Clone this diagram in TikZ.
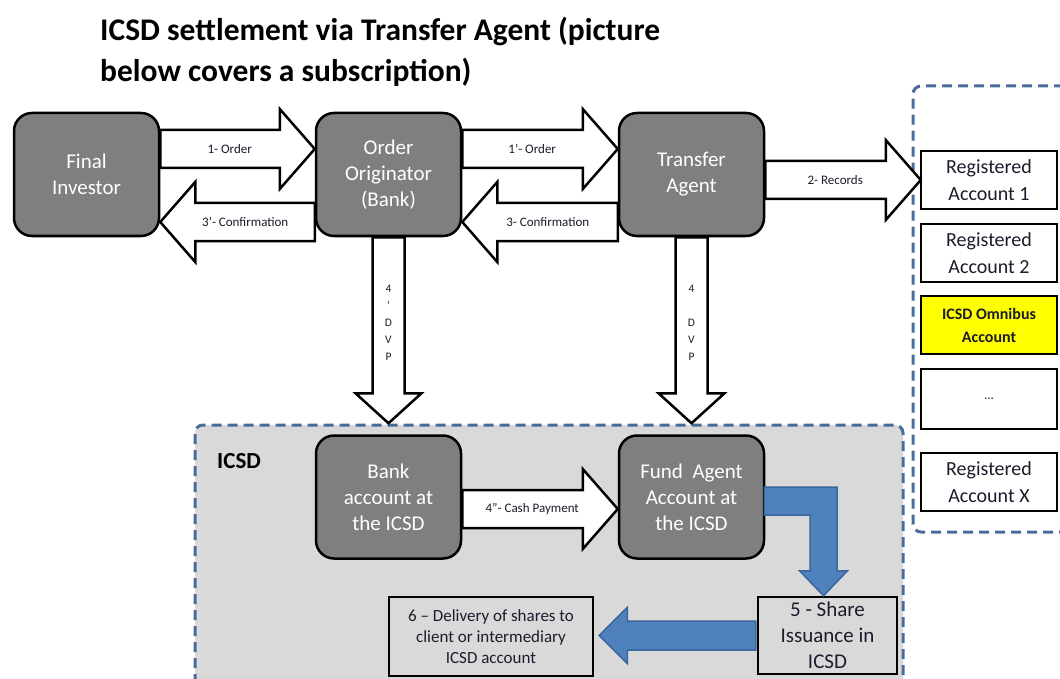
\documentclass[tikz,border=0pt]{standalone}
\usepackage{fontspec}
\setmainfont{Carlito}
\usetikzlibrary{calc}
\definecolor{boxgray}{HTML}{7F7F7F}
\definecolor{icsdgray}{HTML}{D9D9D9}
\definecolor{dashblue}{HTML}{4A6C9B}
\definecolor{arrowblue}{HTML}{4F81BD}
\definecolor{arrowblueb}{HTML}{3A679C}
\definecolor{omni}{HTML}{FFFF00}
\definecolor{txt}{HTML}{1C1C2C}

\newcommand\rblock[4]{%
  \draw[barrow] ($(#1 |- #2)+(0,-19)$) -- ($(#2)+(-35,-19)$) -- ($(#2)+(-35,-40)$) -- (#2)
    -- ($(#2)+(-35,40)$) -- ($(#2)+(-35,19)$) -- ($(#1 |- #2)+(0,19)$) -- cycle;
  \node[alabel] (#4) at ($(#1 |- #2)!0.45!(#2)$) {#3};}
\newcommand\lblock[4]{%
  \draw[barrow] ($(#1 |- #2)+(0,-19)$) -- ($(#2)+(35,-19)$) -- ($(#2)+(35,-40)$) -- (#2)
    -- ($(#2)+(35,40)$) -- ($(#2)+(35,19)$) -- ($(#1 |- #2)+(0,19)$) -- cycle;
  \node[alabel] (#4) at ($(#1 |- #2)!0.45!(#2)$) {#3};}
\newcommand\dblock[2]{%
  \draw[barrow] ($(#1 -| #2)+(-16,0)$) -- ($(#2)+(-16,-30)$) -- ($(#2)+(-33,-30)$) -- (#2)
    -- ($(#2)+(33,-30)$) -- ($(#2)+(16,-30)$) -- ($(#1 -| #2)+(16,0)$) -- cycle;}

\begin{document}
\begin{tikzpicture}[x=1pt,y=-1pt,
  gbox/.style={draw=black, line width=2.5pt, fill=boxgray, rounded corners=18pt,
    minimum width=145pt, minimum height=123pt, text=white, align=center,
    font=\fontsize{21}{26}\selectfont, inner sep=0pt},
  rbox/.style={draw=black, line width=2.5pt, fill=white, minimum width=136pt,
    minimum height=58pt, align=center, text=txt, font=\fontsize{20}{27}\selectfont, inner sep=0pt},
  sbox/.style={draw=black, line width=2.5pt, fill=icsdgray, align=center, text=txt, inner sep=0pt},
  barrow/.style={draw=black, fill=white, line width=2.5pt, line join=miter},
  blarrow/.style={draw=arrowblueb, fill=arrowblue, line width=1.5pt, line join=miter},
  alabel/.style={text=txt, font=\fontsize{13}{15}\selectfont, inner sep=0pt},
  vlabel/.style={text=txt, font=\fontsize{11.5}{17}\selectfont, align=center, inner sep=0pt},
  dashframe/.style={draw=dashblue, line width=3pt, dash pattern=on 10pt off 6pt, rounded corners=8pt},
]
\useasboundingbox (0,0) rectangle (1060,679);

% title
\node[anchor=north west, align=left, inner sep=0pt, font=\fontsize{31.5}{41}\selectfont\bfseries, text=black]
  (title) at (100,17) {ICSD settlement via Transfer Agent (picture\\below covers a subscription)};

% ICSD region
\fill[icsdgray, rounded corners=8pt] (195,700) -- (195,425) -- (903,425) -- (903,700) -- cycle;
\draw[dashframe] (195,700) -- (195,425) -- (903,425) -- (903,700);
\node[anchor=west, inner sep=0pt, font=\fontsize{23}{27}\selectfont\bfseries, text=black] (icsdlab) at (217,461) {ICSD};

% right registry frame
\draw[dashframe] (1080,86) -- (913,86) -- (913,532) -- (1080,532);

% gray boxes
\node[gbox] (fi) at (86.5,174.5) {Final\\Investor};
\node[gbox] (oo) at (388.5,174.5) {Order\\Originator\\(Bank)};
\node[gbox] (ta) at (691.5,174.5) {Transfer\\Agent};
\node[gbox] (ba) at (388.5,497) {Bank\\account at\\the ICSD};
\node[gbox] (fa) at (691.5,497) {Fund\ \ Agent\\Account at\\the ICSD};

% registered accounts
\node[rbox] (ra1) at (989,180) {Registered\\Account 1};
\node[rbox] (ra2) at (989,253) {Registered\\Account 2};
\node[rbox, fill=omni, font=\fontsize{16}{23}\selectfont\bfseries] (om) at (989,325) {ICSD Omnibus\\Account};
\node[rbox, minimum height=60pt] (rd) at (989,399) {\fontsize{13}{15}\selectfont ...};
\node[rbox] (rax) at (989,482) {Registered\\Account X};

% bottom boxes
\node[sbox, minimum width=139pt, minimum height=77pt, font=\fontsize{21}{26}\selectfont] (sh) at (827.5,635.5) {5 - Share\\Issuance in\\ICSD};
\node[sbox, minimum width=204pt, minimum height=79pt, font=\fontsize{17}{21}\selectfont] (dl) at (491,636.5) {6 -- Delivery of shares to\\client or intermediary\\ICSD account};

% tips
\coordinate (t1) at ($(oo.west)+(0,-25.5)$);
\coordinate (t3p) at ($(fi.east)+(0,47.5)$);
\coordinate (t1p) at ($(ta.west)+(0,-25.5)$);
\coordinate (t3) at ($(oo.east)+(0,47.5)$);
\coordinate (t2) at ($(ra1.west)+(1,0)$);
\coordinate (t4p) at ($(ba.north)+(0,-11)$);
\coordinate (t4) at ($(fa.north)+(0,-11)$);
\coordinate (tc) at ($(fa.west)+(0,12)$);

% block arrows
\rblock{fi.east}{t1}{1- Order}{l1}
\lblock{oo.west}{t3p}{3'- Confirmation}{l3p}
\rblock{oo.east}{t1p}{1'- Order}{l1p}
\lblock{ta.west}{t3}{3- Confirmation}{l3}
\rblock{ta.east}{t2}{2- Records}{l2}
\rblock{ba.east}{tc}{4''- Cash Payment}{lc}
\dblock{oo.south}{t4p}
\dblock{ta.south}{t4}
\node[vlabel] (v4p) at ($(oo.south)+(0,86)$) {4\\'\\D\\V\\P};
\node[vlabel] (v4) at ($(ta.south)+(0,86)$) {4\\\strut\\D\\V\\P};

% blue arrows
\coordinate (tb) at ($(sh.north)+(-4,0)$);
\draw[blarrow] ($(fa.east)+(-1,-10)$) -- ($(tb |- fa.east)+(13.5,-10)$) -- ($(tb)+(13.5,-25)$)
  -- ($(tb)+(24,-25)$) -- (tb) -- ($(tb)+(-24,-25)$) -- ($(tb)+(-13.5,-25)$)
  -- ($(tb |- fa.east)+(-13.5,18)$) -- ($(fa.east)+(-1,18)$) -- cycle;
\coordinate (tl) at ($(dl.east |- sh.west)+(5,0)$);
\draw[blarrow] ($(sh.west)+(-1,-14.5)$) -- ($(tl)+(28,-14.5)$) -- ($(tl)+(28,-28)$) -- (tl)
  -- ($(tl)+(28,28)$) -- ($(tl)+(28,14.5)$) -- ($(sh.west)+(-1,14.5)$) -- cycle;
\end{tikzpicture}
\end{document}
